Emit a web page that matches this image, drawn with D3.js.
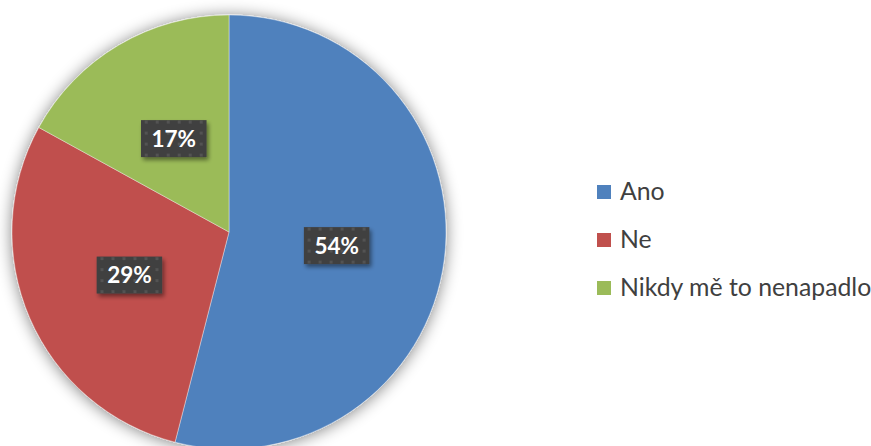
<!DOCTYPE html>
<html>
<head>
<meta charset="utf-8">
<script src="https://cdn.jsdelivr.net/npm/d3@7"></script>
<style>
  html, body { margin: 0; padding: 0; background: #fff; }
  svg { display: block; }
</style>
</head>
<body>
<svg id="chart" width="871" height="446"></svg>
<script>
// Survey answers and their shares (percent)
const categories = ["Ano", "Ne", "Nikdy mě to nenapadlo"];
const values = [54, 29, 17];
const colors = ["#4F81BD", "#C0504D", "#9BBB59"];

const width = 871, height = 446;
const cx = 229, cy = 232, radius = 217;

const svg = d3.select("#chart");
const defs = svg.append("defs");

// soft glow-like shadow around the pie
const pieShadow = defs.append("filter").attr("id", "pieShadow")
  .attr("x", "-20%").attr("y", "-20%").attr("width", "140%").attr("height", "140%");
pieShadow.append("feGaussianBlur").attr("in", "SourceAlpha").attr("stdDeviation", 8).attr("result", "blur");
pieShadow.append("feOffset").attr("in", "blur").attr("dx", 0).attr("dy", 1).attr("result", "off");
pieShadow.append("feComponentTransfer").attr("in", "off").attr("result", "soft")
  .append("feFuncA").attr("type", "linear").attr("slope", 0.5);
const m1 = pieShadow.append("feMerge");
m1.append("feMergeNode").attr("in", "soft");
m1.append("feMergeNode").attr("in", "SourceGraphic");

// drop shadow under the value labels
const boxShadow = defs.append("filter").attr("id", "boxShadow")
  .attr("x", "-30%").attr("y", "-30%").attr("width", "160%").attr("height", "160%");
boxShadow.append("feGaussianBlur").attr("in", "SourceAlpha").attr("stdDeviation", 2).attr("result", "blur");
boxShadow.append("feOffset").attr("in", "blur").attr("dx", 2).attr("dy", 3).attr("result", "off");
boxShadow.append("feComponentTransfer").attr("in", "off").attr("result", "soft")
  .append("feFuncA").attr("type", "linear").attr("slope", 0.45);
const m2 = boxShadow.append("feMerge");
m2.append("feMergeNode").attr("in", "soft");
m2.append("feMergeNode").attr("in", "SourceGraphic");

// dotted texture for the label boxes
const pat = defs.append("pattern").attr("id", "dots")
  .attr("patternUnits", "userSpaceOnUse").attr("width", 11).attr("height", 11);
pat.append("rect").attr("width", 11).attr("height", 11).attr("fill", "#404040");
pat.append("rect").attr("x", 4).attr("y", 4).attr("width", 3).attr("height", 3).attr("fill", "#525252");

const pie = d3.pie().sort(null).value(d => d);
const arcs = pie(values);
const arc = d3.arc().innerRadius(0).outerRadius(radius);

const g = svg.append("g").attr("transform", `translate(${cx},${cy})`);

g.append("g").attr("filter", "url(#pieShadow)")
  .selectAll("path")
  .data(arcs)
  .join("path")
  .attr("d", arc)
  .attr("fill", (d, i) => colors[i])
  .attr("stroke", "#ffffff")
  .attr("stroke-opacity", 0.5)
  .attr("stroke-width", 0.75);

// value labels at slice centroids
const labels = g.selectAll("g.lbl")
  .data(arcs)
  .join("g")
  .attr("class", "lbl")
  .attr("transform", d => {
    const [x, y] = arc.centroid(d);
    return `translate(${x},${y})`;
  });

labels.each(function(d) {
  const sel = d3.select(this);
  const t = sel.append("text")
    .attr("text-anchor", "middle")
    .attr("dy", "0.36em")
    .attr("font-family", "Lato, 'Open Sans', sans-serif")
    .attr("font-weight", "bold")
    .attr("font-size", 22.5)
    .attr("fill", "#ffffff")
    .text(d.data + "%");
  const w = t.node().getComputedTextLength() + 21;
  const h = 37;
  sel.insert("rect", "text")
    .attr("x", -w / 2).attr("y", -h / 2)
    .attr("width", w).attr("height", h)
    .attr("fill", "url(#dots)")
    .attr("filter", "url(#boxShadow)");
});

// legend
const legend = svg.append("g").attr("transform", "translate(597,0)");
const rows = legend.selectAll("g")
  .data(categories)
  .join("g")
  .attr("transform", (d, i) => `translate(0,${192 + i * 48})`);

rows.append("rect")
  .attr("x", 0).attr("y", -7)
  .attr("width", 14).attr("height", 14)
  .attr("fill", (d, i) => colors[i]);

rows.append("text")
  .attr("x", 23)
  .attr("y", 7.5)
  .attr("font-family", "Lato, 'Open Sans', sans-serif")
  .attr("font-size", 24.8)
  .attr("fill", "#404040")
  .text(d => d);
</script>
</body>
</html>
